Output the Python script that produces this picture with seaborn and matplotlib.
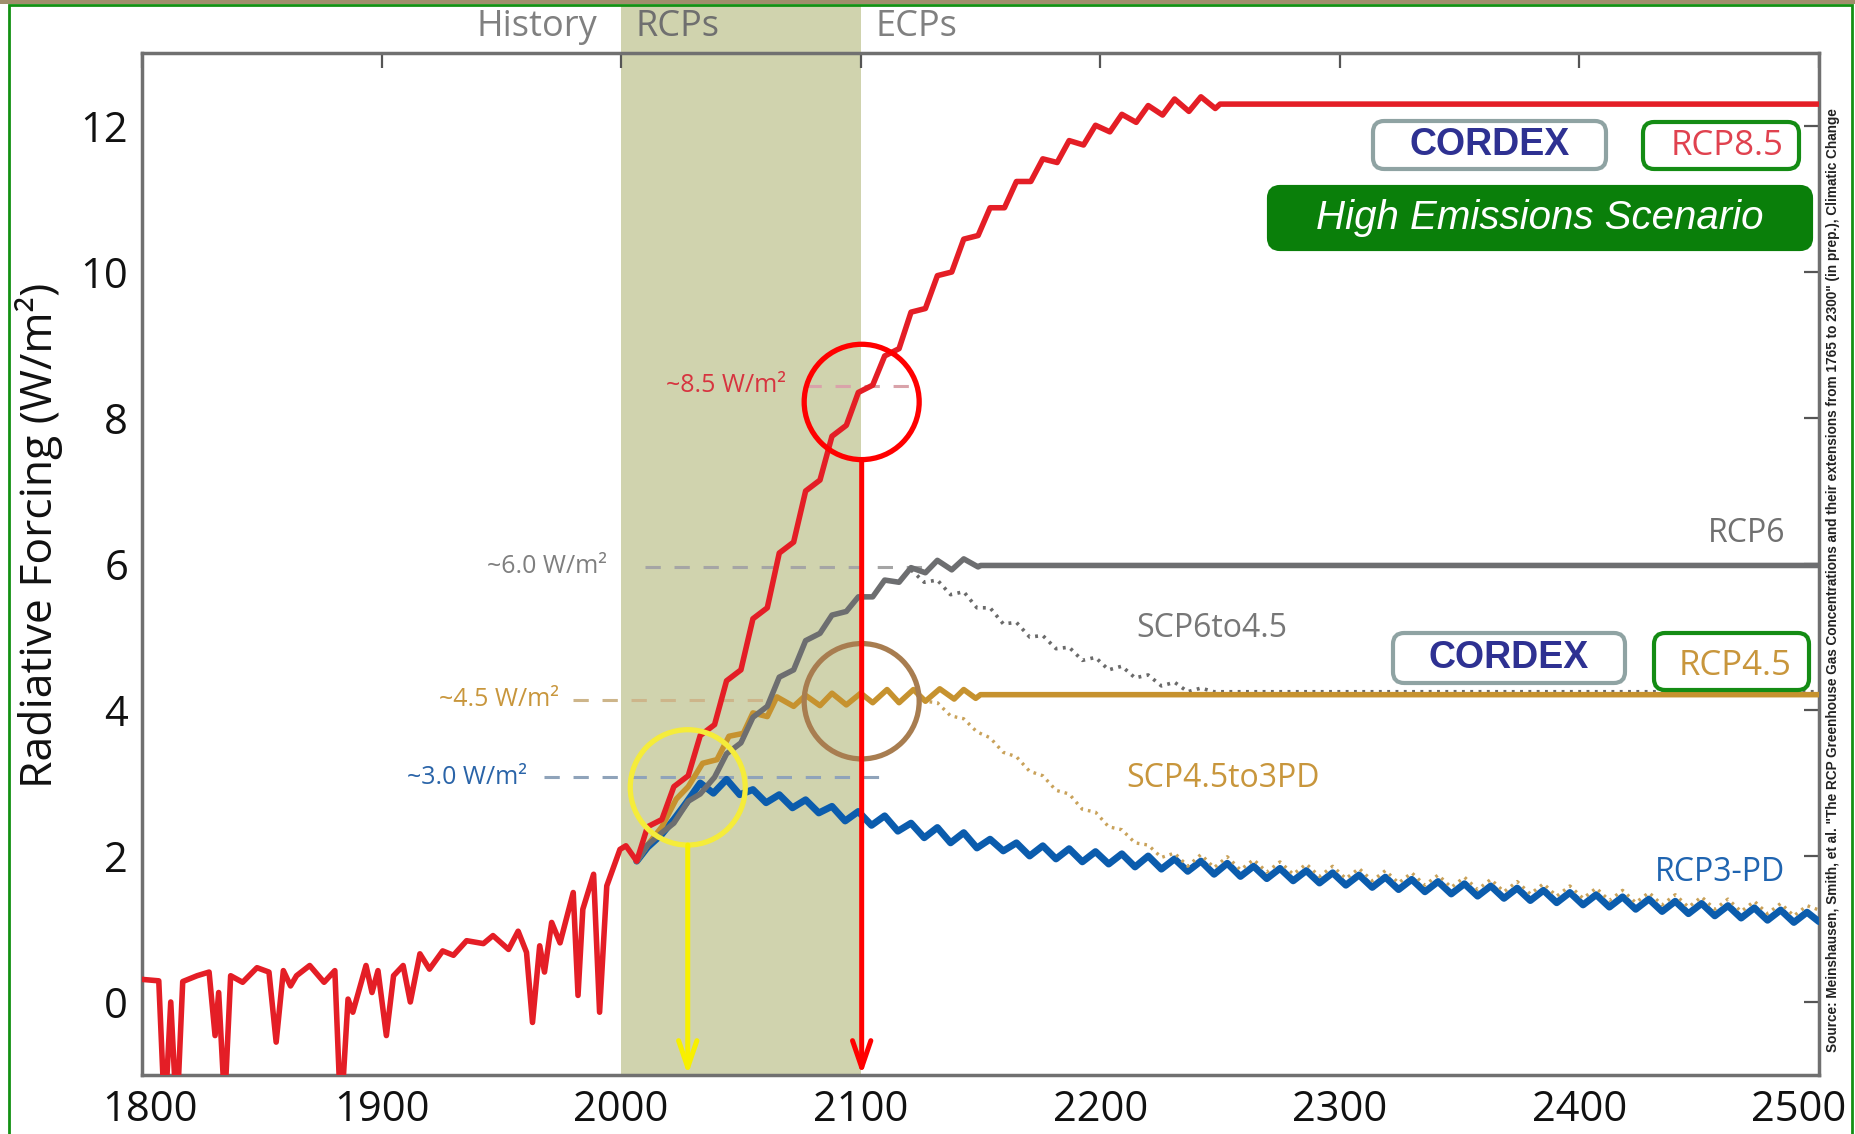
import numpy as np
import matplotlib
matplotlib.use("Agg")
import matplotlib.pyplot as plt
import seaborn as sns
from matplotlib import font_manager
from matplotlib.patches import Ellipse, FancyBboxPatch, Rectangle
from matplotlib.transforms import ScaledTranslation

# ---- data (year, W/m2) ----
hist_years = [1800, 1807, 1809.5, 1812, 1814.5, 1817, 1823, 1828, 1830.5, 1832,
              1834.5, 1837, 1842, 1848, 1853, 1856, 1859, 1862, 1864.5, 1870,
              1876, 1880.5, 1883, 1886, 1888, 1893.5, 1896, 1898.5, 1902, 1905,
              1909, 1912, 1916, 1920, 1925.5, 1930, 1935.5, 1942.5, 1946.5, 1953,
              1957, 1960.5, 1963, 1966, 1968, 1971, 1974.5, 1980, 1982, 1984,
              1988.5, 1991, 1994, 1999.5]
hist_values = [0.31, 0.29, -1.6, 0.0, -1.6, 0.28, 0.36, 0.41, -0.46, 0.13,
               -1.4, 0.36, 0.27, 0.47, 0.41, -0.55, 0.43, 0.22, 0.36, 0.50,
               0.27, 0.43, -1.6, 0.04, -0.14, 0.50, 0.13, 0.43, -0.46, 0.36,
               0.50, 0.0, 0.66, 0.45, 0.70, 0.64, 0.84, 0.80, 0.91, 0.72,
               0.97, 0.68, -0.28, 0.77, 0.41, 1.09, 0.81, 1.50, 0.09, 1.27,
               1.75, -0.14, 1.59, 2.09]

rcp85_years = [2002, 2006.5, 2011, 2017, 2022, 2028, 2033, 2039, 2044, 2050,
               2055, 2061, 2066, 2072, 2077, 2083, 2088, 2094, 2099, 2105,
               2110, 2116, 2121, 2127, 2132, 2138, 2143, 2149, 2154, 2160,
               2165, 2171, 2176, 2182, 2187, 2193, 2198, 2204, 2209, 2215,
               2220, 2226, 2231, 2237, 2242, 2248, 2250, 2500]
rcp85_values = [2.14, 1.93, 2.40, 2.50, 2.95, 3.10, 3.65, 3.80, 4.40, 4.55,
                5.25, 5.40, 6.15, 6.30, 7.00, 7.15, 7.75, 7.90, 8.35, 8.45,
                8.85, 8.95, 9.45, 9.50, 9.95, 10.00, 10.45, 10.50, 10.88, 10.88,
                11.24, 11.24, 11.55, 11.50, 11.80, 11.74, 12.01, 11.92, 12.16, 12.05,
                12.28, 12.15, 12.37, 12.20, 12.40, 12.24, 12.30, 12.30]

rcp6_years = [2006.5, 2011, 2017, 2022, 2028, 2033, 2039, 2044, 2050, 2055,
              2061, 2066, 2072, 2077, 2083, 2088, 2094, 2099, 2105, 2110,
              2116, 2121, 2127, 2132, 2138, 2143, 2149, 2150, 2500]
rcp6_values = [1.93, 2.15, 2.32, 2.45, 2.75, 2.85, 3.08, 3.40, 3.55, 3.90,
               4.05, 4.45, 4.55, 4.95, 5.05, 5.30, 5.35, 5.55, 5.55, 5.78,
               5.75, 5.95, 5.88, 6.05, 5.92, 6.07, 5.96, 5.98, 5.98]

rcp45_years = [2006.5, 2011, 2017, 2023, 2028, 2034, 2040, 2045, 2051, 2055,
               2061, 2065, 2072, 2077, 2083, 2088, 2094, 2100, 2105, 2111,
               2116, 2122, 2127, 2133, 2139, 2143, 2148, 2150, 2500]
rcp45_values = [1.93, 2.15, 2.40, 2.78, 2.95, 3.27, 3.32, 3.64, 3.68, 3.96,
                3.91, 4.18, 4.05, 4.20, 4.06, 4.23, 4.07, 4.23, 4.10, 4.28,
                4.10, 4.28, 4.12, 4.29, 4.15, 4.28, 4.16, 4.21, 4.21]

# solar-cycle peaks / troughs, every half cycle
wiggle_years = [2033, 2038.5, 2044, 2049.5, 2055, 2060.5, 2066, 2071.5, 2077, 2082.5,
                2088, 2093.5, 2099, 2104.5, 2110, 2115.5, 2121, 2126.5, 2132, 2137.5,
                2143, 2148.5, 2154, 2159.5, 2165, 2170.5, 2176, 2181.5, 2187, 2192.5,
                2198, 2203.5, 2209, 2214.5, 2220, 2225.5, 2231, 2236.5, 2242, 2247.5,
                2253, 2258.5, 2264, 2269.5, 2275, 2280.5, 2286, 2291.5, 2297, 2302.5,
                2308, 2313.5, 2319, 2324.5, 2330, 2335.5, 2341, 2346.5, 2352, 2357.5,
                2363, 2368.5, 2374, 2379.5, 2385, 2390.5, 2396, 2401.5, 2407, 2412.5,
                2418, 2423.5, 2429, 2434.5, 2440, 2445.5, 2451, 2456.5, 2462, 2467.5,
                2473, 2478.5, 2484, 2489.5, 2495]

rcp3_years = [2006.5, 2011, 2017, 2022, 2027] + wiggle_years + [2500]
rcp3_values = [1.93, 2.12, 2.30, 2.50, 2.72,
               3.00, 2.86, 3.05, 2.84, 2.91, 2.73, 2.84, 2.66, 2.77, 2.59,
               2.68, 2.48, 2.61, 2.42, 2.55, 2.34, 2.45, 2.25, 2.39, 2.18,
               2.32, 2.11, 2.23, 2.07, 2.18, 2.00, 2.14, 1.96, 2.10, 1.92,
               2.06, 1.89, 2.03, 1.85, 2.00, 1.82, 1.96, 1.79, 1.93, 1.75,
               1.90, 1.72, 1.86, 1.69, 1.83, 1.66, 1.80, 1.63, 1.77, 1.60,
               1.74, 1.57, 1.71, 1.54, 1.68, 1.51, 1.65, 1.48, 1.62, 1.45,
               1.59, 1.42, 1.56, 1.39, 1.53, 1.36, 1.50, 1.33, 1.47, 1.30,
               1.44, 1.27, 1.41, 1.24, 1.38, 1.21, 1.35, 1.18, 1.32, 1.15,
               1.29, 1.12, 1.26, 1.09, 1.23,
               1.10]

scp6_years = wiggle_years[16:40] + [2500]
scp6_values = [5.92, 5.75, 5.78, 5.58, 5.62, 5.40, 5.40, 5.18, 5.20, 5.00,
               5.02, 4.84, 4.86, 4.68, 4.72, 4.55, 4.60, 4.44, 4.48, 4.33,
               4.38, 4.25, 4.30, 4.25, 4.25]

scp45_years = wiggle_years[16:] + [2500]
scp45_values = [4.28, 4.12, 4.10, 3.92, 3.88, 3.70, 3.62, 3.42, 3.36, 3.16,
                3.10, 2.90, 2.85, 2.64, 2.60, 2.40, 2.36, 2.18, 2.15, 1.98,
                2.04, 1.86, 2.02, 1.84, 1.99, 1.81, 1.95, 1.78, 1.92, 1.75,
                1.89, 1.72, 1.86, 1.69, 1.83, 1.66, 1.80, 1.63, 1.77, 1.60,
                1.74, 1.57, 1.71, 1.54, 1.68, 1.51, 1.65, 1.48, 1.62, 1.45,
                1.59, 1.42, 1.56, 1.39, 1.53, 1.36, 1.50, 1.33, 1.47, 1.30,
                1.44, 1.27, 1.41, 1.24, 1.38, 1.21, 1.35, 1.18, 1.32,
                1.26]

x_ticks = [1800, 1900, 2000, 2100, 2200, 2300, 2400, 2500]
y_ticks = [0, 2, 4, 6, 8, 10, 12]

# level markers: (label, value, label end year, dash start, dash end, text colour, dash colour)
levels = [
    ("~8.5 W/m²", 8.44, 2069, 2077, 2125, "#D7343F", "#D9A3AA"),
    ("~6.0 W/m²", 5.96, 1994, 2010, 2128, "#7F7F7F", "#A5A5A5"),
    ("~4.5 W/m²", 4.14, 1974, 1980, 2063, "#C8963C", "#CDB58A"),
    ("~3.0 W/m²", 3.08, 1960.5, 1968, 2111, "#2A64A8", "#8FA3BA"),
]

RED = "#E41E26"
GREY = "#6D6E70"
GOLD = "#C6922F"
BLUE = "#0B5CAD"


def pick_font(name, fallback):
    names = {f.name for f in font_manager.fontManager.ttflist}
    return name if name in names else fallback


def fig_box(fig, x0, y0, x1, y1, ec, fc, lw=3):
    # box given in figure pixels (top-left origin)
    W, H = 1856.0, 1134.0
    patch = FancyBboxPatch((x0 / W, 1 - y1 / H), (x1 - x0) / W, (y1 - y0) / H,
                           boxstyle="round,pad=0,rounding_size=0.006",
                           mutation_aspect=W / H, transform=fig.transFigure,
                           ec=ec, fc=fc, lw=lw, zorder=20)
    fig.add_artist(patch)
    return ((x0 + x1) / 2 / W, 1 - (y0 + y1) / 2 / H)


def draw_chart():
    sns.set_theme(style="white")
    plt.rcParams["font.family"] = ["Open Sans", "DejaVu Sans"]

    fig = plt.figure(figsize=(18.56, 11.34), dpi=100)
    ax = fig.add_axes([0.07651, 0.05203, 0.90356, 0.90123])

    ax.axvspan(2000, 2100, ymin=0, ymax=1.047, color="#D0D3AE", lw=0,
               clip_on=False, zorder=0)

    for label, val, tx, d0, d1, tc, dc in levels:
        ax.plot([d0, d1], [val, val], color=dc, lw=2.2, ls=(0, (5, 4.5)), zorder=1)
        ax.text(tx, val, label, color=tc, fontsize=18, ha="right", va="center")

    sns.lineplot(x=scp6_years, y=scp6_values, ax=ax, color="#6A6A6A", lw=2.6,
                 ls=(0, (0.8, 1.5)), estimator=None, sort=False, zorder=2)

    sns.lineplot(x=rcp3_years, y=rcp3_values, ax=ax, color=BLUE, lw=5,
                 estimator=None, sort=False, zorder=3, solid_joinstyle="round")
    sns.lineplot(x=scp45_years, y=scp45_values, ax=ax, color="#C9A25A", lw=2.4,
                 ls=(0, (0.8, 1.5)), estimator=None, sort=False, zorder=3.5)
    sns.lineplot(x=rcp45_years, y=rcp45_values, ax=ax, color=GOLD, lw=4,
                 estimator=None, sort=False, zorder=4, solid_joinstyle="round")
    sns.lineplot(x=rcp6_years, y=rcp6_values, ax=ax, color=GREY, lw=4,
                 estimator=None, sort=False, zorder=5, solid_joinstyle="round")
    sns.lineplot(x=hist_years + rcp85_years, y=hist_values + rcp85_values, ax=ax,
                 color=RED, lw=4, estimator=None, sort=False, zorder=6,
                 solid_joinstyle="round")

    ax.set_xlim(1800, 2500)
    ax.set_ylim(-1, 13)
    ax.set_xticks(x_ticks)
    ax.set_yticks(y_ticks)
    ax.tick_params(direction="in", length=11, width=1.6, color="#555555",
                   labelsize=30, labelcolor="#111111", pad=10,
                   top=True, right=True)
    # keep the last year label inside the frame
    last = ax.get_xticklabels()[-1]
    last.set_transform(last.get_transform() + ScaledTranslation(-0.2, 0, fig.dpi_scale_trans))
    first = ax.get_xticklabels()[0]
    first.set_transform(first.get_transform() + ScaledTranslation(0.08, 0, fig.dpi_scale_trans))
    for s in ax.spines.values():
        s.set_color("#707070")
        s.set_linewidth(2.5)
    ax.set_xlabel("")
    ax.set_ylabel("Radiative Forcing (W/m²)", fontsize=32, color="#111111")
    ax.yaxis.set_label_coords(-0.047, 0.528)

    # period labels above the plot
    for txt, xpos, ha, col in [("History", 1990, "right", "#808080"),
                               ("RCPs", 2006, "left", "#6F6F6F"),
                               ("ECPs", 2106, "left", "#808080")]:
        ax.annotate(txt, (xpos, 1.025), xycoords=("data", "axes fraction"),
                    ha=ha, va="center", fontsize=26, color=col,
                    annotation_clip=False)

    # scenario labels
    ax.text(2486, 6.42, "RCP6", color="#707070", fontsize=23, ha="right", va="center")
    ax.text(2215, 5.11, "SCP6to4.5", color="#777777", fontsize=23, ha="left", va="center")
    ax.text(2211, 3.06, "SCP4.5to3PD", color="#C8963C", fontsize=23, ha="left", va="center")
    ax.text(2486, 1.78, "RCP3-PD", color="#1F64B0", fontsize=23, ha="right", va="center")

    # highlight circles and arrows
    ew, eh = 48, 1.58
    for cx, cy, col in [(2100.4, 8.22, "#FF0000"), (2100.4, 4.12, "#A87D50"),
                        (2027.8, 2.94, "#F5EC3A")]:
        ax.add_patch(Ellipse((cx, cy), ew, eh, fill=False, ec=col, lw=3.8, zorder=8))
    for cx, top, col in [(2100.4, 8.22 - eh / 2, "#FF0000"),
                         (2027.8, 2.94 - eh / 2, "#F8F000")]:
        ax.annotate("", xy=(cx, -1), xytext=(cx, top),
                    arrowprops=dict(arrowstyle="->,head_length=1.6,head_width=0.55",
                                    color=col, lw=3.6, shrinkA=0, shrinkB=0),
                    annotation_clip=False, zorder=9)

    # scenario boxes
    arial = "Liberation Sans"
    c = fig_box(fig, 1373, 121, 1606, 169, "#8FA3A3", "white")
    fig.text(c[0], c[1], "CORDEX", family=arial, weight="bold", color="#2E3192",
             fontsize=27, ha="center", va="center", zorder=21)
    c = fig_box(fig, 1643, 122, 1799, 169, "#148C14", "white")
    fig.text(c[0] + 0.003, c[1], "RCP8.5", color="#E0424F", fontsize=25,
             ha="center", va="center", zorder=21)
    c = fig_box(fig, 1269, 187, 1811, 249, "#0A7F0A", "#0A7F0A")
    fig.text(c[0], c[1], "High Emissions Scenario", family=arial, style="italic",
             color="white", fontsize=29, ha="center", va="center", zorder=21)
    c = fig_box(fig, 1393, 633, 1625, 683, "#8FA3A3", "white")
    fig.text(c[0], c[1], "CORDEX", family=arial, weight="bold", color="#2E3192",
             fontsize=27, ha="center", va="center", zorder=21)
    c = fig_box(fig, 1654, 633, 1809, 690, "#148C14", "white")
    fig.text(c[0] + 0.002, c[1] - 0.004, "RCP4.5", color="#C8963C", fontsize=25,
             ha="center", va="center", zorder=21)

    narrow = pick_font("Liberation Sans Narrow", arial)
    fig.text(0.9875, 0.4885,
             'Source: Meinshausen, Smith, et al. "The RCP Greenhouse Gas Concentrations '
             'and their extensions from 1765 to 2300" (in prep.), Climatic Change',
             family=narrow, fontsize=9.8, weight="bold", rotation=90,
             ha="center", va="center", color="#222222")

    # slide frame
    fig.add_artist(Rectangle((0, 1 - 4 / 1134), 1, 4 / 1134, transform=fig.transFigure,
                             color="#A08E6C", lw=0, zorder=30))
    fig.add_artist(Rectangle((9 / 1856, -0.01), 1843 / 1856, 1.01 - 5 / 1134,
                             transform=fig.transFigure, fill=False,
                             ec="#139013", lw=2, zorder=30))

    fig.savefig("out.png", dpi=100)
    plt.close(fig)


if __name__ == "__main__":
    draw_chart()
